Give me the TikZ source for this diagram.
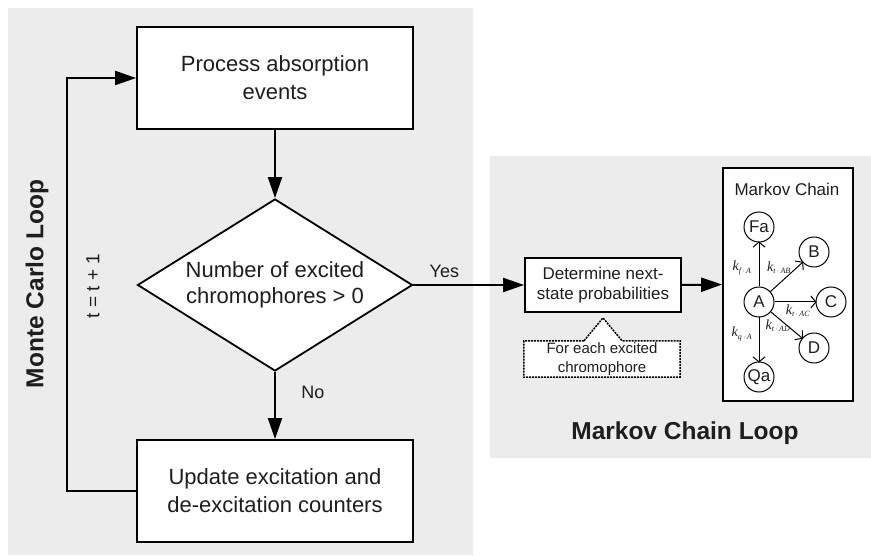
\documentclass[tikz,border=0pt]{standalone}
\usepackage{fontspec}
\setmainfont{Liberation Sans}
\newfontfamily\ratefont{Liberation Serif}
\usetikzlibrary{arrows.meta,shapes.geometric,calc}
\definecolor{panelgray}{RGB}{235,236,235}
\definecolor{inkgray}{RGB}{30,30,30}
\tikzset{
  stepbox/.style={draw, line width=1.8pt, fill=white, minimum width=276pt, minimum height=102pt, inner sep=0pt, align=center, font=\fontsize{22}{28}\selectfont},
  choice/.style={draw, diamond, line width=1.8pt, fill=white, aspect=1.6, inner sep=0pt, minimum width=275pt, minimum height=172pt, align=center, font=\fontsize{22}{26}\selectfont},
  flow/.style={line width=2pt, -{Triangle[length=21pt,width=14pt]}},
  state/.style={draw, circle, line width=1pt, fill=white, minimum size=30pt, inner sep=0pt, font=\fontsize{17}{17}\selectfont},
  rate/.style={line width=1pt, -{Straight Barb[length=5pt,width=12pt]}, shorten >=-1pt},
  ratelbl/.style={inner sep=0pt, font=\ratefont\itshape\fontsize{14}{14}\selectfont}
}
\newcommand{\rk}[1]{k\textsubscript{\fontsize{8}{8}\selectfont #1}}
\begin{document}
\begin{tikzpicture}[x=1pt, y=-1pt, every node/.style={text=inkgray}]
\useasboundingbox (0,0) rectangle (871,556);

\fill [panelgray] (8,8) rectangle (473,555);
\fill [panelgray] (490,156) rectangle (871,458);

\node (mcloop) at (37,284) [rotate=90, font=\bfseries\fontsize{24.5}{24.5}\selectfont] {Monte Carlo Loop};
\node (tinc) at (93,286) [rotate=90, font=\fontsize{19}{19}\selectfont] {t = t + 1};
\node (mkloop) at (685,433) [font=\bfseries\fontsize{24.5}{24.5}\selectfont] {Markov Chain Loop};

\node (proc) at (275,78) [stepbox] {Process absorption\\events};
\node (dec) at (275,285) [choice] {Number of excited\\chromophores > 0};
\node (upd) at (275,491) [stepbox] {Update excitation and\\de-excitation counters};

\node (det) at (603,285) [draw, line width=1.8pt, fill=white, minimum width=156pt, minimum height=54pt, inner sep=0pt, align=center, font=\fontsize{17}{20}\selectfont] {Determine next-\\state probabilities};
\node (note) at (602,359) [minimum width=156pt, minimum height=36pt, inner sep=0pt, align=center, font=\fontsize{15}{19}\selectfont] {For each excited\\chromophore};
\draw [line width=1.5pt, dash pattern=on 2pt off 1pt, fill=white]
  ($(note.north)+(-18,0)$) -- (note.north west) -- (note.south west) -- (note.south east)
  -- (note.north east) -- ($(note.north)+(20,0)$) -- ($(det.south)+(0,5)$) -- cycle;
\node at (note) [align=center, font=\fontsize{15}{19}\selectfont] {For each excited\\chromophore};

\node (mkbox) at (788,284.5) [draw, line width=1.8pt, fill=white, minimum width=130pt, minimum height=233pt] {};
\node (mktitle) at (787,189) [font=\fontsize{17}{17}\selectfont] {Markov Chain};

\node (Fa) at (759,227) [state] {Fa};
\node (B) at (814,252) [state] {B};
\node (A) at (759,302) [state] {A};
\node (C) at (831,302) [state] {C};
\node (D) at (814,348) [state] {D};
\node (Qa) at (759,377) [state] {Qa};

\begin{scope}[rate]
\draw (A) -- (Fa);
\draw (A) -- (B);
\draw (A) -- (C);
\draw (A) -- (D);
\draw (A) -- (Qa);
\end{scope}

\node (kfa) at (742,268) [ratelbl] {\rk{f\,$\cdot$\,A}};
\node (ktab) at (779,268) [ratelbl] {\rk{t\,$\cdot$\,AB}};
\node (ktac) at (798,311) [ratelbl] {\rk{t\,$\cdot$\,AC}};
\node (ktad) at (778,326) [ratelbl] {\rk{t\,$\cdot$\,AD}};
\node (kqa) at (742,334) [ratelbl] {\rk{q\,$\cdot$\,A}};

\draw [flow] (proc) -- (dec);
\draw [flow] (dec) -- (upd) node [pos=0.3, right=22pt, font=\fontsize{18}{18}\selectfont] (no) {No};
\draw [flow] (dec.east) -- (det.west) node [pos=0.28, above=3pt, font=\fontsize{18}{18}\selectfont] (yes) {Yes};
\draw [flow] (det.east) -- (mkbox.west);
\draw [flow] (upd.west) -- ++(-69,0) |- (proc.west);

\end{tikzpicture}
\end{document}
